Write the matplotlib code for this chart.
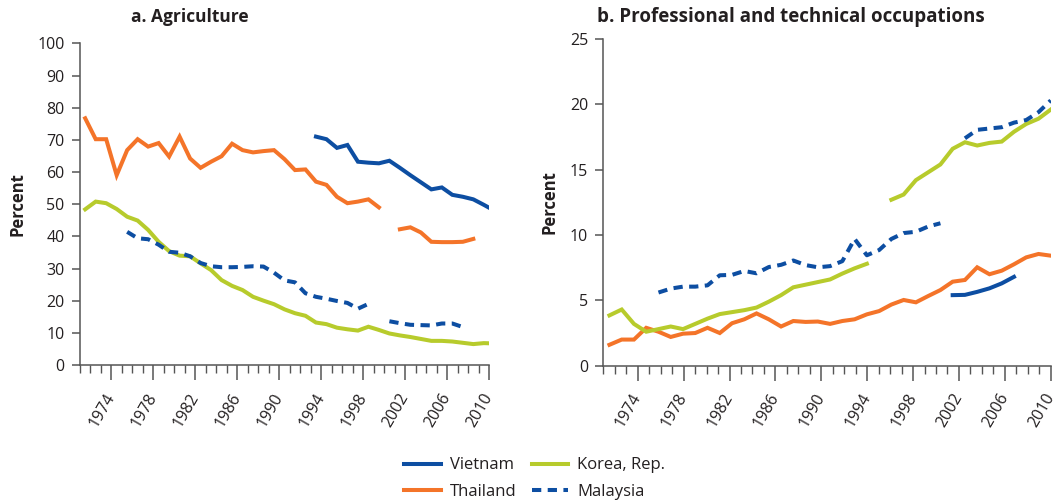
import numpy as np
import matplotlib
matplotlib.use("Agg")
import matplotlib.pyplot as plt
from matplotlib.lines import Line2D

plt.rcParams['font.family'] = ['Open Sans', 'DejaVu Sans']

nan = np.nan

# panel a: agriculture, 1971-2010
agri_years = np.arange(1971, 2011)
agri_vietnam = [nan] * 22 + [71.0, 70.2, 67.5, 68.4, 63.2, 62.9, 62.7, 63.5, 61.3, 59.0,
                             56.8, 54.6, 55.2, 52.9, 52.3, 51.5, 49.8, 48.0]
agri_thailand = [76.7, 70.2, 70.2, 59.0, 66.8, 70.2, 67.9, 69.0, 64.8, 71.0,
                 64.2, 61.3, 63.2, 64.9, 68.8, 66.8, 66.1, 66.5, 66.8, 64.0,
                 60.6, 60.8, 57.0, 56.0, 52.3, 50.3, 50.8, 51.5, 49.0, nan,
                 42.2, 42.8, 41.2, 38.3, 38.2, 38.2, 38.3, 39.2, nan, nan]
agri_korea = [48.4, 50.8, 50.3, 48.5, 46.1, 44.9, 42.0, 38.3, 35.4, 34.0,
              33.8, 31.6, 29.5, 26.4, 24.6, 23.3, 21.2, 20.0, 18.9, 17.3,
              16.1, 15.3, 13.2, 12.7, 11.6, 11.1, 10.7, 11.9, 10.9, 9.8,
              9.2, 8.7, 8.1, 7.5, 7.5, 7.3, 6.9, 6.5, 6.8, 6.7]
agri_malaysia = [nan] * 4 + [41.4, 39.4, 39.1, 37.4, 35.2, 34.9, 33.8, 31.7, 30.7, 30.4,
                             30.4, 30.5, 30.7, 30.6, 28.7, 26.3, 25.7, 22.3, 21.2, 20.6,
                             19.9, 19.3, 17.5, 19.0, nan,
                             13.6, 13.0, 12.5, 12.4, 12.3, 12.9, 12.9, 11.8, nan, nan, nan]

# panel b: professional and technical occupations, 1971-2007
prof_years = np.arange(1971, 2008)
prof_vietnam = [nan] * 28 + [5.4, 5.42, 5.65, 5.92, 6.3, 6.8, nan, nan, nan]
prof_thailand = [1.6, 2.0, 2.0, 2.9, 2.6, 2.2, 2.45, 2.5, 2.9, 2.5,
                 3.25, 3.55, 4.0, 3.55, 3.0, 3.42, 3.35, 3.38, 3.2, 3.42,
                 3.55, 3.93, 4.18, 4.68, 5.03, 4.85, 5.33, 5.79, 6.43, 6.56,
                 7.53, 7.0, 7.27, 7.76, 8.29, 8.55, 8.42]
prof_korea = [3.85, 4.3, 3.2, 2.6, 2.8, 3.0, 2.8, 3.2, 3.6, 3.95,
              4.1, 4.25, 4.45, 4.9, 5.4, 6.0, 6.2, 6.4, 6.6, 7.05,
              7.45, 7.8, nan, 12.7, 13.1, 14.2, 14.8, 15.4, 16.6, 17.1,
              16.85, 17.05, 17.15, 17.9, 18.5, 18.9, 19.6]
prof_malaysia = [nan] * 4 + [5.6, 5.9, 6.05, 6.05, 6.15, 6.92, 6.95, 7.25, 7.07, 7.55,
                             7.72, 8.05, 7.7, 7.53, 7.62, 8.0, 9.7, 8.45, 8.85, 9.7,
                             10.15, 10.25, 10.65, 10.9, nan,
                             17.4, 18.05, 18.15, 18.25, 18.6, 18.8, 19.4, 20.3]

label_years = np.arange(1974, 2011, 4)

BLUE = '#0d4ea2'
ORANGE = '#f47429'
GREEN = '#b7cb2c'
TXT = '#231f20'
LW = 2.9
DASH = (2.3, 1.6)
FS = 11.5


def draw_panel(ax, years, vn, th, kr, my, xmax, ymax, ystep):
    x = years + 0.5  # values sit in the middle of each year slot
    ax.plot(x, th, color=ORANGE, lw=LW, solid_joinstyle='miter')
    ax.plot(x, kr, color=GREEN, lw=LW, solid_joinstyle='miter')
    ax.plot(x, vn, color=BLUE, lw=LW, solid_joinstyle='miter')
    ax.plot(x, my, color=BLUE, lw=LW, dashes=DASH)

    ax.set_xlim(1971, xmax)
    ax.set_ylim(0, ymax)
    span = (xmax - 1971) / 39.0
    ax.set_xticks(1971 + (label_years - 1971) * span)
    ax.set_xticklabels(label_years, rotation=60, ha='right', va='center',
                       rotation_mode='anchor')
    ax.set_xticks(1971 + (np.arange(1971, 2011) - 1971) * span, minor=True)
    ax.set_yticks(np.arange(0, ymax + 1, ystep))

    for s in ['top', 'right']:
        ax.spines[s].set_visible(False)
    for s in ['left', 'bottom']:
        ax.spines[s].set_color('#555555')
        ax.spines[s].set_linewidth(1.1)
    ax.tick_params(axis='y', length=6, width=1.1, color='#555555',
                   labelsize=FS, labelcolor=TXT, pad=5)
    ax.tick_params(axis='x', which='major', length=11, width=1.1, color='#555555',
                   labelsize=FS, labelcolor=TXT, pad=10)
    ax.tick_params(axis='x', which='minor', length=6, width=1.0, color='#555555')
    ax.set_ylabel('Percent', fontsize=12, fontweight='bold', color=TXT, labelpad=8)


fig = plt.figure(figsize=(10.59, 5.04), dpi=100)
ax1 = fig.add_axes([0.0755, 0.2758, 0.3863, 0.6382])
ax2 = fig.add_axes([0.5697, 0.2744, 0.4225, 0.6482])

draw_panel(ax1, agri_years, agri_vietnam, agri_thailand, agri_korea, agri_malaysia,
           2010, 100, 10)
draw_panel(ax2, prof_years, prof_vietnam, prof_thailand, prof_korea, prof_malaysia,
           2007.5, 25, 5)

fig.text(0.179, 0.966, 'a. Agriculture', fontsize=12.5, fontweight='bold',
         color=TXT, ha='center', va='center')
fig.text(0.747, 0.966, 'b. Professional and technical occupations', fontsize=13.5,
         fontweight='bold', color=TXT, ha='center', va='center')

handles = [Line2D([], [], color=BLUE, lw=LW),
           Line2D([], [], color=ORANGE, lw=LW),
           Line2D([], [], color=GREEN, lw=LW),
           Line2D([], [], color=BLUE, lw=LW, dashes=DASH)]
labels = ['Vietnam', 'Thailand', 'Korea, Rep.', 'Malaysia']
leg = fig.legend(handles, labels, ncol=2, loc='center', bbox_to_anchor=(0.505, 0.05),
                 frameon=False, fontsize=12, handlelength=2.2, handletextpad=0.55,
                 columnspacing=0.9, labelspacing=0.65)
for t in leg.get_texts():
    t.set_color(TXT)

fig.savefig('out.png', dpi=100)
